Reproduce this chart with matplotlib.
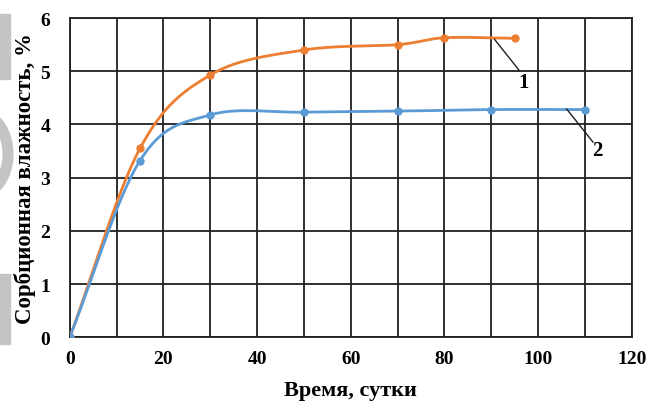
import matplotlib.pyplot as plt
import numpy as np
from matplotlib.patches import Rectangle, Ellipse

days_1 = [0, 15, 30, 50, 70, 80, 95]
moist_1 = [0, 3.55, 4.93, 5.40, 5.50, 5.63, 5.62]
days_2 = [0, 15, 30, 50, 70, 90, 110]
moist_2 = [0, 3.32, 4.18, 4.23, 4.25, 4.28, 4.28]
xticks = [0, 20, 40, 60, 80, 100, 120]
yticks = [0, 1, 2, 3, 4, 5, 6]


def smooth(x, y, n=30):
    # catmull-rom like excel's smoothed line
    x = np.asarray(x, float)
    y = np.asarray(y, float)
    px = np.concatenate([[2 * x[0] - x[1]], x, [2 * x[-1] - x[-2]]])
    py = np.concatenate([[2 * y[0] - y[1]], y, [2 * y[-1] - y[-2]]])
    xs, ys = [], []
    t = np.linspace(0, 1, n)
    for i in range(1, len(px) - 2):
        for p, out in ((px, xs), (py, ys)):
            p0, p1, p2, p3 = p[i - 1], p[i], p[i + 1], p[i + 2]
            m1 = (p2 - p0) / 6
            m2 = (p3 - p1) / 6
            b1 = p1 + m1
            b2 = p2 - m2
            out.extend((1 - t) ** 3 * p1 + 3 * (1 - t) ** 2 * t * b1
                       + 3 * (1 - t) * t ** 2 * b2 + t ** 3 * p2)
    return xs, ys


plt.rcParams['font.family'] = 'Liberation Serif'
plt.rcParams['font.weight'] = 'bold'

fig = plt.figure(figsize=(6.52, 4.06), dpi=100)
ax = fig.add_axes([0.107, 0.167, 0.862, 0.786])

orange = '#ED7D31'
blue = '#5B9BD5'

sx, sy = smooth(days_1, moist_1)
ax.plot(sx, sy, color=orange, lw=2, zorder=3)
ax.plot(days_1, moist_1, 'o', color=orange, ms=5, zorder=4)
sx, sy = smooth(days_2, moist_2)
ax.plot(sx, sy, color=blue, lw=2, zorder=3)
ax.plot(days_2, moist_2, 'o', color=blue, ms=5, zorder=4)

ax.set_xlim(0, 120)
ax.set_ylim(0, 6)
ax.set_xticks(xticks)
ax.set_yticks(yticks)
ax.set_xticks(np.arange(0, 121, 10), minor=True)
ax.grid(True, which='both', axis='x', color='#202020', lw=1.3)
ax.grid(True, which='major', axis='y', color='#202020', lw=1.3)
ax.tick_params(which='both', length=0, labelsize=14)
ax.tick_params(axis='x', pad=9)
ax.tick_params(axis='y', pad=14)
for s in ax.spines.values():
    s.set_color('#202020')
    s.set_linewidth(1.3)

ax.plot([90.7, 96.1], [5.6, 5.0], color='#202020', lw=1, zorder=5)
ax.text(96.8, 4.8, '1', fontsize=15, fontweight='bold', ha='center', va='center', zorder=6)
ax.plot([106.1, 111.7], [4.29, 3.67], color='#202020', lw=1, zorder=5)
ax.text(112.6, 3.52, '2', fontsize=15, fontweight='bold', ha='center', va='center', zorder=6)

ax.set_xlabel('Время, сутки', fontsize=16, fontweight='bold')
ax.set_ylabel('Сорбционная влажность, %', fontsize=16.5, fontweight='bold')
ax.xaxis.set_label_coords(0.5, -0.135)
ax.yaxis.set_label_coords(-0.06, 0.5)

# grey bits from the page edge
fig.patches.append(Rectangle((0, 1 - 80 / 406), 10 / 652, 65 / 406,
                             transform=fig.transFigure, color='#c4c4c4', zorder=-1))
fig.patches.append(Rectangle((0, 1 - 345 / 406), 10 / 652, 70 / 406,
                             transform=fig.transFigure, color='#c4c4c4', zorder=-1))
fig.patches.append(Ellipse((-20 / 652, 1 - 155 / 406), 56 / 652, 80 / 406,
                           transform=fig.transFigure, fill=False, lw=8,
                           edgecolor='#c4c4c4', zorder=-1))

fig.savefig('out.png', dpi=100)
